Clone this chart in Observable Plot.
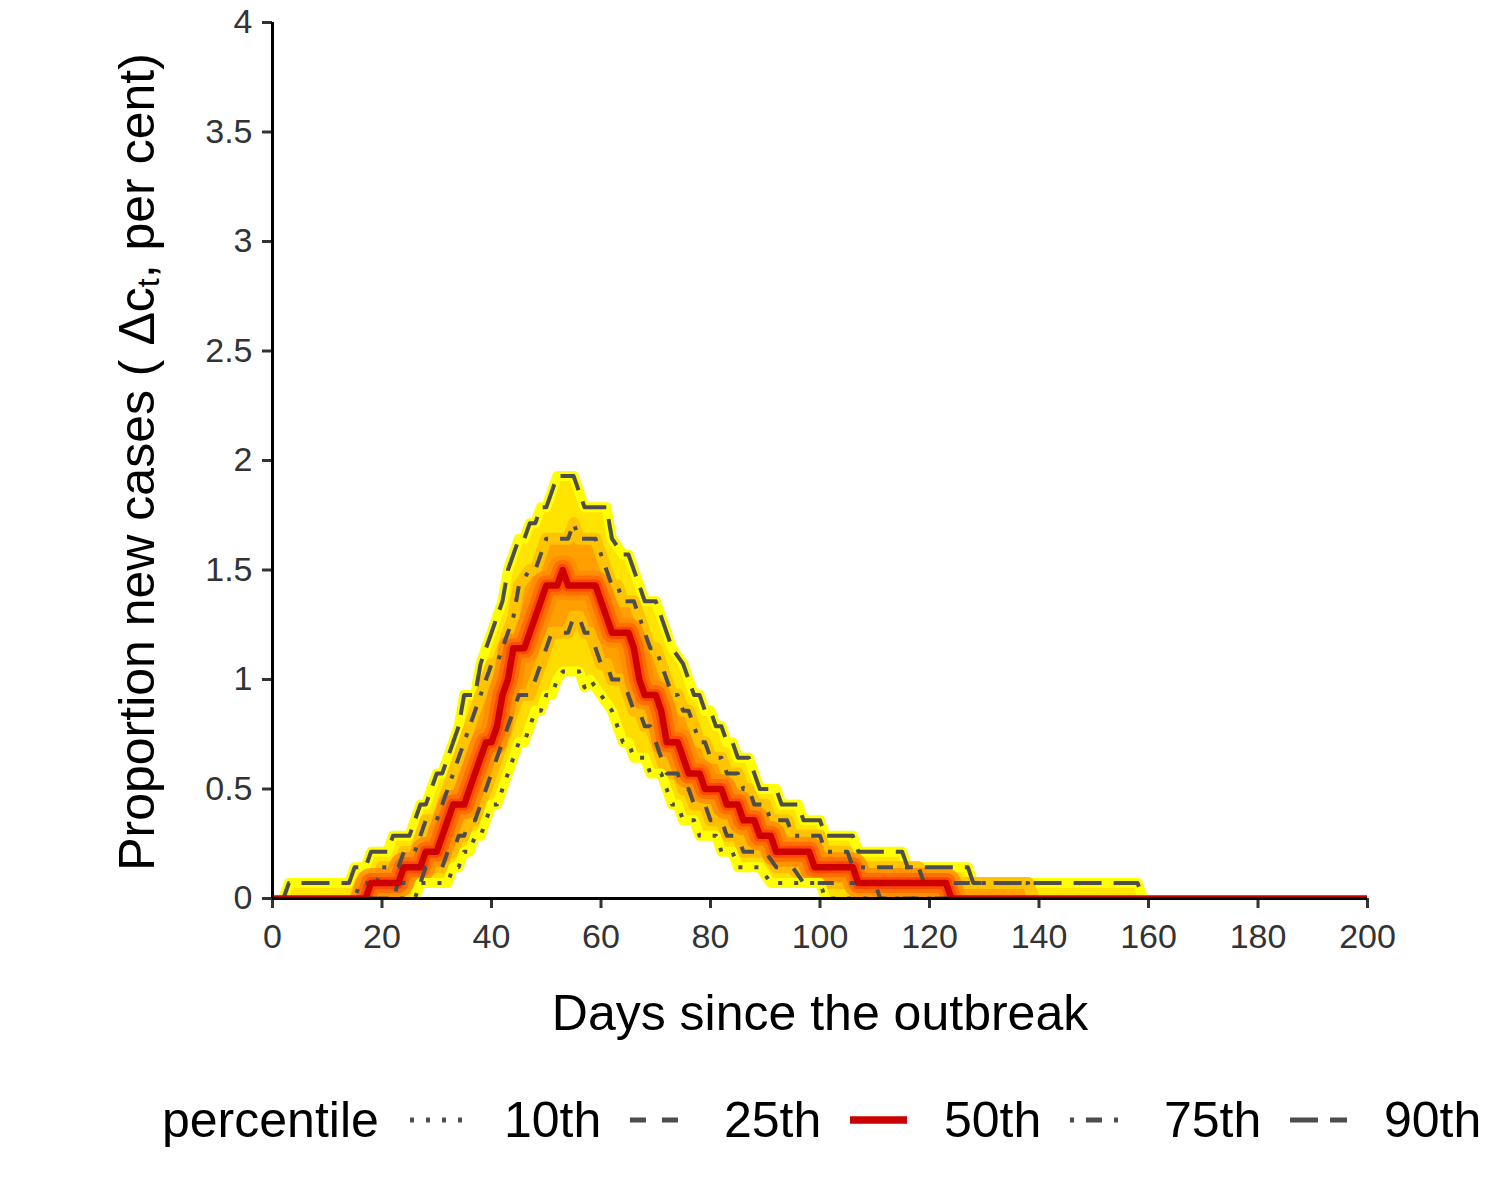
<!DOCTYPE html>
<html>
<head>
<meta charset="utf-8">
<script src="https://cdn.jsdelivr.net/npm/d3@7"></script>
<script src="https://cdn.jsdelivr.net/npm/@observablehq/plot@0.6"></script>
<style>
  body { margin: 0; background: #fff; font-family: "Liberation Sans", Arial, sans-serif; }
  #wrap { position: relative; width: 1500px; height: 1200px; background: #fff; }
  #legend { position: absolute; left: 162px; top: 1090px; height: 60px; display: flex; align-items: center; font-size: 50px; color: #000; white-space: nowrap; }
  #legend .title { width: 248px; }
  #legend .item { width: 220px; display: flex; align-items: center; }
  #legend .item span { margin-left: 37px; }
</style>
</head>
<body>
<div id="wrap">
  <div id="chart"></div>
  <div id="legend"></div>
</div>
<script>
// ---- data: vertices [day, proportion new cases (per cent)] ----
const p10 = [[0,0],[26,0],[27,0.071],[32,0.071],[33,0.143],[34,0.143],[35,0.214],[36,0.214],[37,0.286],[38,0.286],[39,0.357],[40,0.429],[41,0.429],[42,0.5],[43,0.571],[44,0.643],[45,0.714],[46,0.714],[47,0.786],[48,0.857],[49,0.857],[50,0.929],[51,0.929],[52,1],[53,1.036],[56,1.036],[57,0.964],[58,1],[59,0.964],[60,0.929],[62,0.857],[63,0.786],[64,0.714],[65,0.714],[66,0.643],[68,0.643],[69,0.571],[71,0.571],[72,0.5],[73,0.429],[74,0.429],[75,0.357],[77,0.357],[78,0.286],[81,0.286],[82,0.214],[84,0.214],[85,0.143],[89,0.143],[91,0.071],[100,0.071],[101,0],[200,0]];

const p25 = [[0,0],[22,0],[23,0.071],[27,0.071],[28,0.143],[31,0.143],[32,0.214],[33,0.214],[34,0.286],[35,0.286],[36,0.357],[37,0.357],[38,0.429],[39,0.5],[40,0.571],[41,0.643],[42,0.714],[43,0.786],[44,0.857],[45,0.929],[47,0.929],[48,1],[49,1.071],[50,1.143],[51,1.214],[54,1.214],[55,1.286],[56,1.286],[57,1.214],[58,1.214],[59,1.143],[60,1.071],[61,1.071],[62,1],[64,1],[65,0.929],[66,0.857],[67,0.857],[68,0.786],[69,0.786],[70,0.714],[71,0.643],[72,0.571],[74,0.571],[75,0.5],[76,0.5],[77,0.429],[79,0.429],[80,0.357],[82,0.357],[83,0.286],[85,0.286],[86,0.214],[90,0.214],[92,0.143],[95,0.143],[97,0.071],[110,0.071],[111,0],[200,0]];

const p50 = [[0,0],[17,0],[18,0.071],[23,0.071],[24,0.143],[27,0.143],[28,0.214],[30,0.214],[31,0.286],[32,0.357],[33,0.429],[35,0.429],[36,0.5],[37,0.571],[38,0.643],[39,0.714],[40,0.714],[41,0.786],[42,0.929],[43,1],[44,1.143],[46,1.143],[47,1.214],[48,1.286],[49,1.357],[50,1.429],[52,1.429],[53,1.5],[54,1.429],[59,1.429],[60,1.357],[61,1.286],[62,1.214],[65,1.214],[66,1.143],[67,1],[68,0.929],[70,0.929],[71,0.857],[72,0.714],[74,0.714],[75,0.643],[76,0.571],[78,0.571],[79,0.5],[82,0.5],[83,0.429],[85,0.429],[86,0.357],[88,0.357],[89,0.286],[91,0.286],[92,0.214],[98,0.214],[99,0.143],[106,0.143],[107,0.071],[123,0.071],[124,0],[200,0]];

const p75 = [[0,0],[15,0],[16,0.071],[19,0.071],[20,0.143],[23,0.143],[24,0.214],[26,0.214],[27,0.286],[28,0.357],[30,0.357],[31,0.429],[32,0.5],[33,0.571],[34,0.643],[35,0.714],[36,0.786],[37,0.857],[38,0.929],[39,1],[40,1.071],[41,1.071],[42,1.143],[43,1.214],[44,1.286],[45,1.429],[47,1.5],[48,1.5],[49,1.571],[50,1.643],[54,1.643],[55,1.714],[56,1.643],[59,1.643],[60,1.571],[61,1.5],[62,1.429],[63,1.429],[64,1.357],[66,1.357],[67,1.286],[68,1.214],[69,1.143],[70,1.143],[71,1.071],[72,1],[73,0.929],[74,0.929],[75,0.857],[76,0.857],[77,0.786],[78,0.714],[79,0.714],[80,0.643],[82,0.643],[83,0.571],[85,0.571],[86,0.5],[87,0.5],[88,0.429],[90,0.429],[91,0.357],[94,0.357],[95,0.286],[100,0.286],[101,0.214],[105,0.214],[106,0.143],[118,0.143],[119,0.071],[138,0.071],[139,0],[200,0]];

const p90 = [[0,0],[2,0],[3,0.071],[14,0.071],[15,0.143],[17,0.143],[18,0.214],[21,0.214],[22,0.286],[25,0.286],[26,0.357],[27,0.429],[28,0.429],[29,0.5],[30,0.571],[31,0.571],[32,0.643],[33,0.714],[34,0.786],[35,0.929],[37,0.929],[38,1.071],[39,1.143],[40,1.214],[41,1.286],[42,1.357],[43,1.5],[44,1.571],[45,1.643],[46,1.643],[47,1.714],[48,1.714],[49,1.786],[50,1.786],[51,1.857],[52,1.929],[55,1.929],[56,1.857],[57,1.786],[61,1.786],[62,1.643],[64,1.571],[65,1.571],[66,1.5],[67,1.429],[68,1.357],[70,1.357],[71,1.286],[72,1.214],[73,1.143],[75,1.071],[76,1],[77,0.929],[78,0.929],[79,0.857],[80,0.857],[81,0.786],[82,0.786],[83,0.714],[84,0.714],[85,0.643],[87,0.643],[88,0.571],[89,0.5],[92,0.5],[93,0.429],[96,0.429],[97,0.357],[100,0.357],[101,0.286],[106,0.286],[107,0.214],[115,0.214],[116,0.143],[127,0.143],[128,0.071],[158,0.071],[159,0],[200,0]];

const percentileNames = ["10th", "25th", "50th", "75th", "90th"];
const xTicks = [0, 20, 40, 60, 80, 100, 120, 140, 160, 180, 200];
const yTicks = [0, 0.5, 1, 1.5, 2, 2.5, 3, 3.5, 4];
const yTickLabels = ["0", "0.5", "1", "1.5", "2", "2.5", "3", "3.5", "4"];

// ---- styles ----
const GRAY = "#4D4D4D";
const RED = "#CC0000";
const LW = 4;
const styles = {
  "10th": { stroke: GRAY, width: LW, dash: "4,12" },
  "25th": { stroke: GRAY, width: LW, dash: "16,16" },
  "50th": { stroke: RED, width: 6.5, dash: null },
  "75th": { stroke: GRAY, width: LW, dash: "4,12,16,12" },
  "90th": { stroke: GRAY, width: LW, dash: "28,12" }
};

// keep only the part of a series where it is above zero (plus the bounding zero vertices)
function trim(arr) {
  const first = arr.findIndex(d => d[1] > 0);
  let last = -1;
  arr.forEach((d, i) => { if (d[1] > 0) last = i; });
  return arr.slice(Math.max(0, first - 1), last + 2);
}

const X = d => d[0], Y = d => d[1];
const series = { "10th": p10, "25th": p25, "50th": p50, "75th": p75, "90th": p90 };

function lineMark(name) {
  const s = styles[name];
  return Plot.line(series[name], {
    x: X, y: Y, stroke: s.stroke, strokeWidth: s.width,
    strokeDasharray: s.dash || undefined, strokeLinecap: "butt", strokeLinejoin: "round", clip: true
  });
}

const edge = (arr, color, w, op = 1) =>
  Plot.line(trim(arr), { x: X, y: Y, stroke: color, strokeWidth: w, strokeOpacity: op, strokeLinejoin: "round", clip: true });

const chart = Plot.plot({
  width: 1500,
  height: 1060,
  marginLeft: 272,
  marginRight: 133,
  marginTop: 22,
  marginBottom: 162,
  style: { fontFamily: '"Liberation Sans", Arial, sans-serif', background: "white", color: "black" },
  x: { domain: [0, 200] },
  y: { domain: [0, 4] },
  marks: [
    // fan (outer yellow -> inner red)
    Plot.areaY(p90, { x: X, y: Y, fill: "#FFE400", clip: true }),
    edge(p90, "#FFFF00", 10),
    Plot.areaY(p75, { x: X, y: Y, fill: "#FF9F00", clip: true }),
    edge(p75, "#FFC400", 12),
    Plot.areaY(p25, { x: X, y: Y, fill: "#FFDC00", clip: true }),
    edge(p25, "#FFBC00", 12),
    edge(p50, "#FF8A00", 30, 0.8),
    edge(p50, "#FF6A00", 20, 0.9),
    edge(p50, "#FF4800", 12, 1),
    Plot.areaY(p10, { x: X, y: Y, fill: "white", clip: true }),
    edge(p10, "#FFFF00", 10),
    // percentile lines
    lineMark("10th"),
    lineMark("25th"),
    lineMark("75th"),
    lineMark("90th"),
    lineMark("50th"),
    // axes
    Plot.axisX(xTicks, { tickSize: 10, tickPadding: 15, fontSize: 34, color: "#333333", strokeWidth: 3, label: null }),
    Plot.axisY(yTicks, { tickSize: 10, tickPadding: 10, fontSize: 34, color: "#333333", strokeWidth: 3, label: null,
      tickFormat: d => yTickLabels[yTicks.indexOf(d)] }),
    Plot.ruleY([0], { stroke: "black", strokeWidth: 3 }),
    Plot.ruleX([0], { stroke: "black", strokeWidth: 3 }),
    Plot.text(["Days since the outbreak"], { frameAnchor: "bottom", dy: 131, fontSize: 50, fill: "black" })
  ]
});

document.getElementById("chart").appendChild(chart);

// y-axis title with subscript
const svg = d3.select(chart);
const yt = svg.append("text")
  .attr("transform", "translate(141,462) rotate(-90)")
  .attr("text-anchor", "middle")
  .attr("dominant-baseline", "middle")
  .attr("font-size", 50)
  .attr("fill", "black")
  .attr("font-family", '"Liberation Sans", Arial, sans-serif');
yt.append("tspan").text("Proportion new cases ( \u0394c");
yt.append("tspan").attr("font-size", 32).attr("dy", 10).text("t");
yt.append("tspan").attr("dy", -10).text(", per cent)");

// legend
const legend = d3.select("#legend");
legend.append("div").attr("class", "title").text("percentile");
percentileNames.forEach(name => {
  const s = styles[name];
  const item = legend.append("div").attr("class", "item");
  const k = item.append("svg").attr("width", 57).attr("height", 20);
  k.append("line").attr("x1", 0).attr("x2", 57).attr("y1", 10).attr("y2", 10)
    .attr("stroke", s.stroke).attr("stroke-width", name === "50th" ? 7.5 : 5)
    .attr("stroke-dasharray", s.dash).attr("stroke-linecap", "butt");
  item.append("span").text(name);
});
</script>
</body>
</html>
